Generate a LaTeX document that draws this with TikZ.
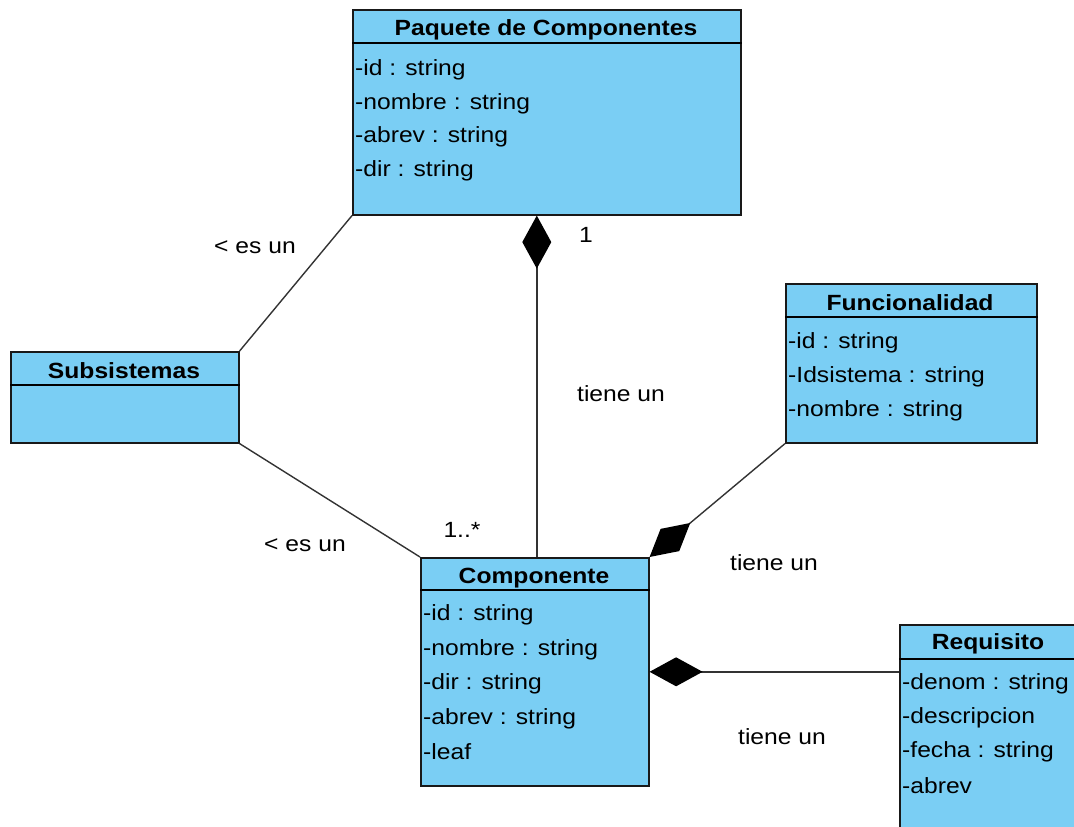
\documentclass[tikz,border=0pt]{standalone}
\usepackage{fontspec}
\setmainfont{Liberation Sans}[FakeStretch=1.12]
\usetikzlibrary{positioning, arrows.meta}
\definecolor{boxblue}{RGB}{122,206,244}
\tikzset{
x=1pt, y=-1pt,
classbox/.style={draw=black!90, fill=boxblue, line width=1.6pt, anchor=north west, inner sep=0pt},
classname/.style={font=\fontsize{22}{26}\selectfont\bfseries, inner sep=0pt},
attr/.style={font=\fontsize{22}{26}\selectfont, anchor=west, inner sep=0pt},
hidden/.style={font=\fontsize{22}{26}\selectfont, inner sep=0pt},
link/.style={line width=1.4pt, draw=black!80},
compo/.style={link, {Diamond[length=53pt,width=29pt,black]}-},
}

\begin{document}
\begin{tikzpicture}
    \clip (0,0) rectangle (1074,827);

    %classes
    \node[classbox, minimum width=388pt, minimum height=205pt] (paq) at (352,9) {};
    \draw[line width=1.6pt] ([yshift=-34pt]paq.north west) -- ([yshift=-34pt]paq.north east);
    \node[classname] (paqname) at (546,30) {Paquete de Componentes};
    \node[attr] (paq1) at (355,70) {-id : string};
    \node[attr] (paq2) at (355,104) {-nombre : string};
    \node[attr] (paq3) at (355,137) {-abrev : string};
    \node[attr] (paq4) at (355,171) {-dir : string};

    \node[classbox, minimum width=228pt, minimum height=91pt] (subs) at (10,351) {};
    \draw[line width=1.6pt] ([yshift=-34pt]subs.north west) -- ([yshift=-34pt]subs.north east);
    \node[classname] (subsname) at (124,371) {Subsistemas};

    \node[classbox, minimum width=251pt, minimum height=159pt] (func) at (785,283) {};
    \draw[line width=1.6pt] ([yshift=-34pt]func.north west) -- ([yshift=-34pt]func.north east);
    \node[classname] (funcname) at (910,303) {Funcionalidad};
    \node[attr] (func1) at (788,343) {-id : string};
    \node[attr] (func2) at (788,377) {-Idsistema : string};
    \node[attr] (func3) at (788,411) {-nombre : string};

    \node[classbox, minimum width=228pt, minimum height=228pt] (comp) at (420,557) {};
    \draw[line width=1.6pt] ([yshift=-33pt]comp.north west) -- ([yshift=-33pt]comp.north east);
    \node[classname] (compname) at (534,578) {Componente};
    \node[attr] (comp1) at (423,615) {-id : string};
    \node[attr] (comp2) at (423,650) {-nombre : string};
    \node[attr] (comp3) at (423,684) {-dir : string};
    \node[attr] (comp4) at (423,719) {-abrev : string};
    \node[attr] (comp5) at (423,752) {-leaf};

    \node[classbox, minimum width=178pt, minimum height=230pt] (req) at (899,624) {};
    \draw[line width=1.6pt] ([yshift=-35pt]req.north west) -- ([yshift=-35pt]req.north east);
    \node[classname] (reqname) at (988,644) {Requisito};
    \node[attr] (req1) at (902,684) {-denom : string};
    \node[attr] (req2) at (902,718) {-descripcion};
    \node[attr] (req3) at (902,752) {-fecha : string};
    \node[attr] (req4) at (902,786) {-abrev};

    %connectors
    \draw[link] (paq.south west) -- (subs.north east);
    \draw[link] (subs.south east) -- (comp.north west);
    \draw[compo] ([xshift=-10pt]paq.south) -- ([xshift=-10pt]paq.south |- comp.north);
    \draw[compo] (comp.north east) -- (func.south west);
    \draw[compo] (comp.east) -- (comp.east -| req.west);

    %labels
    \node[hidden] (l1) at (255,247) {< es un};
    \node[hidden] (l2) at (586,235) {1};
    \node[hidden] (l3) at (621,394) {tiene un};
    \node[hidden] (l4) at (305,545) {< es un};
    \node[hidden] (l5) at (462,530) {1..*};
    \node[hidden] (l6) at (774,563) {tiene un};
    \node[hidden] (l7) at (782,737) {tiene un};
\end{tikzpicture}
\end{document}
